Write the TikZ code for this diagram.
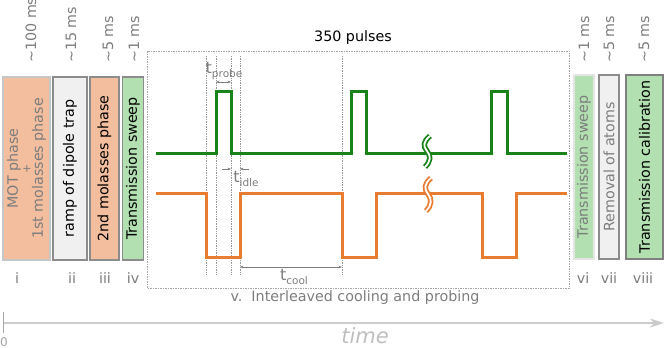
\documentclass[tikz,border=0pt]{standalone}
\usepackage{fontspec}
\setmainfont{DejaVu Sans}
\usetikzlibrary{positioning,arrows.meta,calc}
\definecolor{MolOrange}{RGB}{243,190,158}
\definecolor{SweepGreen}{RGB}{178,224,176}
\definecolor{TrapGray}{RGB}{240,240,240}
\definecolor{ProbeGreen}{RGB}{25,130,25}
\definecolor{CoolOrange}{RGB}{232,125,50}
\definecolor{TextGray}{RGB}{125,125,125}
\newcommand{\tsub}[1]{{\fontsize{16}{18}\selectfont t}\raisebox{-3.5pt}{\fontsize{10.5}{12}\selectfont #1}}

\begin{document}
\begin{tikzpicture}[x=1pt, y=-1pt,
    every node/.style={font=\fontsize{14.3}{16}\selectfont, inner sep=0pt},
    phase/.style={draw, line width=1.6pt, rotate=90, align=center},
    dur/.style={rotate=90, anchor=west, text=TextGray},
    numlbl/.style={text=TextGray},
    sig/.style={line width=3pt},
    marker/.style={TextGray!80, densely dotted, line width=0.7pt},
    span/.style={{Stealth[length=3.5pt]}-{Stealth[length=3.5pt]}, TextGray, line width=0.9pt},
    tlbl/.style={text=TextGray},
    brk/.style={line width=1.8pt, double=white, double distance=1.8pt}]
  \useasboundingbox (0,0) rectangle (664,348);

  % phases before the pulse train
  \node[phase, fill=MolOrange, draw=gray!45, text=TextGray, minimum width=183pt,
        minimum height=47pt, font=\fontsize{14.3}{12.5}\selectfont] (ph1) at (26.5,168.5)
        {MOT phase\\{\fontsize{11}{12.5}\selectfont +}\\1st molasses phase};
  \node[phase, fill=TrapGray, draw=gray!90, minimum width=183pt,
        minimum height=34pt] (ph2) at (70,168.5) {ramp of dipole trap};
  \node[phase, fill=MolOrange, draw=gray!90, minimum width=183pt,
        minimum height=29pt] (ph3) at (104.5,168.5) {2nd molasses phase};
  \node[phase, fill=SweepGreen, draw=gray!90, minimum width=183pt,
        minimum height=21pt] (ph4) at (133,168.5) {Transmission sweep};

  % phases after the pulse train
  \node[phase, fill=SweepGreen, draw=gray!20, text=TextGray, minimum width=184pt,
        minimum height=20pt] (ph6) at (584,167) {Transmission sweep};
  \node[phase, fill=TrapGray, draw=gray!90, text=TextGray, minimum width=184pt,
        minimum height=20pt] (ph7) at (609,167) {Removal of atoms};
  \node[phase, fill=SweepGreen, draw=gray, line width=2pt, minimum width=184pt,
        minimum height=37pt] (ph8) at (644.5,167) {Transmission calibration};

  % durations
  \node[dur] (d1) at (31,63) {\char"007E 100 ms};
  \node[dur] (d2) at (71,63) {\char"007E 15 ms};
  \node[dur] (d3) at (108,63) {\char"007E 5 ms};
  \node[dur] (d4) at (134,63) {\char"007E 1 ms};
  \node[dur] (d6) at (584,63) {\char"007E 1 ms};
  \node[dur] (d7) at (609,63) {\char"007E 5 ms};
  \node[dur] (d8) at (644,63) {\char"007E 5 ms};

  % roman numbers
  \node[numlbl] (n1) at (17,278) {i};
  \node[numlbl] (n2) at (72,278) {ii};
  \node[numlbl] (n3) at (105,278) {iii};
  \node[numlbl] (n4) at (133,278) {iv};
  \node[numlbl] (n6) at (583,278) {vi};
  \node[numlbl] (n7) at (609,278) {vii};
  \node[numlbl] (n8) at (643,278) {viii};

  % pulse train frame
  \draw[gray!70, dash pattern=on 1.5pt off 1pt, line width=0.7pt] (147,51) rectangle (569,288);
  \node (pulses) at (353,38) {350 pulses};
  \node[text=TextGray] (train) at (355,298) {v.\ \ Interleaved cooling and probing};

  % marker lines
  \foreach \xm/\nm in {206/m1, 216/m2, 231/m3, 240/m4, 342/m5}{
    \coordinate (\nm t) at (\xm,56);
    \coordinate (\nm b) at (\xm,275);
    \draw[marker] (\nm t) -- (\nm b);
  }

  % probe and cooling signals
  \draw[sig, ProbeGreen] (156,153) -- (216,153) -- (216,91) -- (231,91) -- (231,153)
    -- (351,153) -- (351,91) -- (366,91) -- (366,153) -- (491,153) -- (491,91)
    -- (507,91) -- (507,153) -- (567,153);
  \draw[sig, CoolOrange] (156,193) -- (206,193) -- (206,257) -- (240,257) -- (240,193)
    -- (342,193) -- (342,257) -- (376,257) -- (376,193) -- (482,193) -- (482,257)
    -- (516,257) -- (516,193) -- (567,193);

  % breaks
  \draw[brk, ProbeGreen] (430,136) .. controls (423,142) and (423,146) .. (427,151)
    .. controls (431,156) and (431,161) .. (425,167);
  \draw[brk, CoolOrange] (431,178) .. controls (424,184) and (424,189) .. (428,194)
    .. controls (432,199) and (432,205) .. (426,211);

  % time spans
  \coordinate (pa) at (216,82);
  \coordinate (pb) at (231,82);
  \draw[span] (pa) -- (pb);
  \node[tlbl] (tprobe) at (224,71) {\tsub{probe}};
  \coordinate (ia) at (231,169);
  \coordinate (ib) at (240,169);
  \draw[-{Stealth[length=3.5pt]}, TextGray, line width=0.9pt] ($(ia)+(-9,0)$) -- (ia);
  \draw[-{Stealth[length=3.5pt]}, TextGray, line width=0.9pt] ($(ib)+(9,0)$) -- (ib);
  \node[tlbl] (tidle) at (246,179) {\tsub{idle}};
  \coordinate (ca) at (240,267);
  \coordinate (cb) at (342,267);
  \draw[span] (ca) -- (cb);
  \node[tlbl] (tcool) at (294,277) {\tsub{cool}};

  % time axis
  \coordinate (t0) at (3,323);
  \coordinate (t1) at (664,323);
  \draw[gray!40, line width=2pt, -{Stealth[length=14pt, width=9pt, inset=4pt]}] (t0) -- (t1);
  \draw[gray!70, line width=0.6pt] (3,312) -- (3,333);
  \node[text=gray!70, font=\fontsize{12}{14}\selectfont] (zero) at (4,342) {0};
  \node[text=gray!50, font=\fontsize{21}{24}\selectfont\itshape] (time) at (365,336) {time};
\end{tikzpicture}
\end{document}
